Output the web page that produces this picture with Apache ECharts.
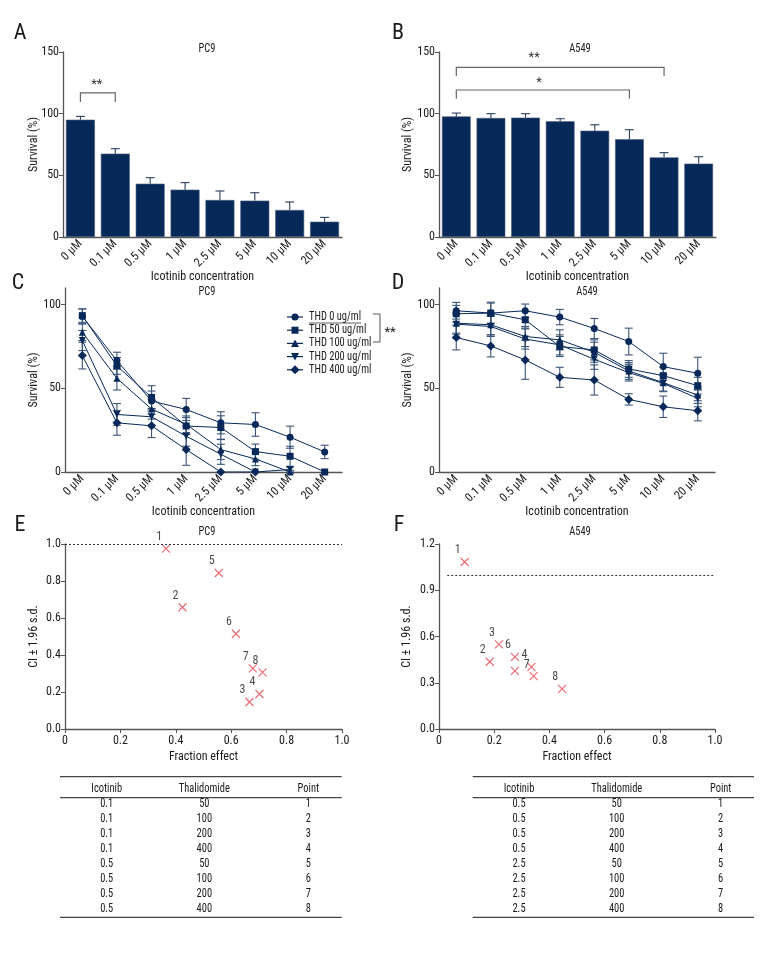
<!DOCTYPE html>
<html><head><meta charset="utf-8">
<script src="https://cdn.jsdelivr.net/npm/echarts@6/dist/echarts.min.js"></script>
<style>html,body{margin:0;padding:0;background:#fff}#c{width:780px;height:960px}</style>
</head><body><div id="c"></div>
<script>
// ---------------- DATA ----------------
const concLabels = ['0 μM','0.1 μM','0.5 μM','1 μM','2.5 μM','5 μM','10 μM','20 μM'];
const pc9BarMean = [95.1, 67.6, 43.2, 38.4, 30.0, 29.5, 21.9, 12.4];
const pc9BarErr  = [2.7, 4.0, 4.9, 5.7, 7.3, 6.4, 6.5, 3.5];
const a549BarMean = [97.8, 96.5, 96.8, 93.8, 86.2, 79.2, 64.6, 59.5];
const a549BarErr  = [2.7, 3.5, 3.2, 2.1, 4.8, 7.8, 3.8, 5.6];
// significance brackets: [fromIdx, toIdx, level, tickEnd]
const pc9Brackets = [[0, 1, 116.8, 109.5]];
const pc9BracketText = ['**'];
const pc9BracketTextPos = [[0.47, 123.5]];
const a549Brackets = [[0, 6, 137.6, 130.5], [0, 5, 119.2, 112]];
const a549BracketText = ['**', '*'];
const a549BracketTextPos = [[2.25, 145.5], [2.39, 125]];

const thdLabels = ['THD 0 ug/ml','THD 50 ug/ml','THD 100 ug/ml','THD 200 ug/ml','THD 400 ug/ml'];
const pc9Thd0   = [93.0, 66.6, 42.4, 37.4, 29.4, 28.4, 20.8, 12.0];
const pc9Thd0Err= [4.5, 5.0, 6.0, 6.6, 6.6, 7.0, 6.6, 4.0];
const pc9Thd50  = [93.5, 63.4, 44.6, 27.5, 26.6, 12.2, 9.4, 0];
const pc9Thd50Err=[4.0, 5.0, 7.0, 5.0, 7.0, 4.5, 6.0, 0];
const pc9Thd100 = [83.6, 56.0, 37.6, 28.5, 13.4, 7.8, 0, null];
const pc9Thd100Err=[5.0, 7.0, 6.0, 5.0, 6.0, 4.0, 1.0, null];
const pc9Thd200 = [78.6, 34.4, 33.0, 21.4, 10.6, 0, 1.5, null];
const pc9Thd200Err=[6.0, 6.5, 5.0, 6.0, 6.0, 0, 1.5, null];
const pc9Thd400 = [69.6, 29.4, 27.6, 13.4, 0, 0, null, null];
const pc9Thd400Err=[8.0, 7.4, 7.0, 9.4, 0, 0, null, null];

const a549Thd0   = [96.4, 95.0, 96.4, 92.6, 85.8, 78.0, 63.0, 59.0];
const a549Thd0Err= [5.0, 6.0, 4.0, 4.6, 6.0, 8.0, 8.0, 9.6];
const a549Thd50  = [94.6, 95.0, 91.0, 75.0, 73.0, 61.6, 57.6, 51.6];
const a549Thd50Err=[5.0, 6.5, 5.0, 6.0, 6.0, 5.0, 5.0, 5.0];
const a549Thd100 = [89.0, 88.0, 81.0, 79.0, 71.6, 60.4, 53.4, 46.0];
const a549Thd100Err=[6.0, 6.0, 6.0, 6.0, 6.0, 5.0, 5.0, 5.0];
const a549Thd200 = [88.4, 87.0, 79.5, 76.0, 67.4, 59.4, 53.0, 44.0];
const a549Thd200Err=[6.0, 6.0, 6.0, 6.0, 6.0, 5.0, 5.0, 5.0];
const a549Thd400 = [80.4, 75.4, 67.0, 56.6, 55.0, 43.4, 39.0, 36.6];
const a549Thd400Err=[7.4, 6.6, 11.6, 6.0, 9.0, 3.4, 6.4, 6.0];

const pc9Fa = [0.365, 0.424, 0.666, 0.702, 0.555, 0.617, 0.678, 0.713];
const pc9CI = [0.975, 0.658, 0.146, 0.189, 0.843, 0.515, 0.328, 0.306];
const pc9PointLabels = ['1','2','3','4','5','6','7','8'];
const a549Fa = [0.093, 0.184, 0.217, 0.335, 0.275, 0.275, 0.343, 0.446];
const a549CI = [1.083, 0.436, 0.549, 0.403, 0.377, 0.468, 0.343, 0.260];
const a549PointLabels = ['1','2','3','4','','6','7','8'];

const tableHeader = ['Icotinib','Thalidomide','Point'];
const pc9TableIco = ['0.1','0.1','0.1','0.1','0.5','0.5','0.5','0.5'];
const pc9TableThd = ['50','100','200','400','50','100','200','400'];
const pc9TablePoint = ['1','2','3','4','5','6','7','8'];
const a549TableIco = ['0.5','0.5','0.5','0.5','2.5','2.5','2.5','2.5'];
const a549TableThd = ['50','100','200','400','50','100','200','400'];
const a549TablePoint = ['1','2','3','4','5','6','7','8'];

// ---------------- FONT PICK ----------------
const ctx = document.createElement('canvas').getContext('2d');
function measure(s, px, fam) { ctx.font = px + 'px ' + fam; return ctx.measureText(s).width; }
function hasFont(name) {
  const s = 'Icotinib Thalidomide 0123 μM';
  return measure(s, 20, "'" + name + "',monospace") !== measure(s, 20, 'monospace') ||
         measure(s, 20, "'" + name + "',serif") !== measure(s, 20, 'serif');
}
const candidates = ['Liberation Sans Narrow', 'Roboto Condensed', 'Noto Sans Condensed', 'Open Sans Condensed', 'DejaVu Sans Condensed', 'Lato'];
let picked = 'Lato';
for (const c of candidates) { if (hasFont(c)) { picked = c; break; } }
const FONT = "'" + picked + "',Lato,sans-serif";
// horizontal squeeze for free text so it matches the condensed reference face
const COND = Math.min(1, 51 / measure('Thalidomide', 12, FONT));
const XLAB = COND < 0.85 ? 11 : 12;
const labDepth = 5 + (measure('2.5 μM', XLAB, FONT) + XLAB * 0.7) * 0.707;

const NAVY = '#06295a';
const ERRC = '#3a5478';
const AXC = '#555';
const TXT = '#1a1a1a';
const RED = '#e2474f';

const chart = echarts.init(document.getElementById('c'), null, {renderer: 'canvas'});

function catX(name, gap) {
  return {
    type: 'category', data: concLabels, boundaryGap: true,
    axisLine: {lineStyle: {color: AXC, width: 1.3}},
    axisTick: {alignWithLabel: true, length: 4, lineStyle: {color: AXC}},
    axisLabel: {rotate: 45, fontSize: XLAB, color: TXT, margin: 5, fontFamily: FONT},
    name: name, nameLocation: 'middle', nameGap: Math.max(gap, labDepth), nameMoveOverlap: false,
    nameTextStyle: {fontSize: 12, color: TXT, fontFamily: FONT}
  };
}
function valY(min, max, interval, name, gap, fmt, custom) {
  const a = {
    type: 'value', min: min, max: max, interval: interval,
    splitLine: {show: false},
    axisLine: {show: true, lineStyle: {color: AXC, width: 1.3}},
    axisTick: {show: true, length: 4, lineStyle: {color: AXC}},
    axisLabel: {fontSize: 12, color: TXT, margin: 4, fontFamily: FONT, formatter: fmt},
    name: name, nameLocation: 'middle', nameGap: gap, nameMoveOverlap: false,
    nameTextStyle: {fontSize: 12, color: TXT, fontFamily: FONT}
  };
  if (custom) { a.axisLabel.customValues = custom; a.axisTick.customValues = custom; }
  return a;
}
function fracX() {
  return {
    type: 'value', min: 0, max: 1, interval: 0.2,
    splitLine: {show: false},
    axisLine: {show: true, lineStyle: {color: AXC, width: 1.3}},
    axisTick: {show: true, length: 4, lineStyle: {color: AXC}},
    axisLabel: {fontSize: 12, color: TXT, margin: 6, fontFamily: FONT,
      formatter: v => v === 0 ? '0' : v.toFixed(1)},
    name: 'Fraction effect', nameLocation: 'middle', nameGap: 22, nameMoveOverlap: false,
    nameTextStyle: {fontSize: 12, color: TXT, fontFamily: FONT}
  };
}

function errSeries(xi, yi, means, errs, upperOnly, capHalf, color, z) {
  const data = [];
  means.forEach((m, i) => { if (m !== null && errs[i] !== null) data.push([i, m, errs[i]]); });
  return {
    type: 'custom', xAxisIndex: xi, yAxisIndex: yi, z: z, silent: true,
    data: data,
    renderItem: function (params, api) {
      const x = api.value(0), m = api.value(1), e = api.value(2);
      if (!e) return;
      const c = api.coord([x, m]);
      const t = api.coord([x, m + e]);
      const b = upperOnly ? c : api.coord([x, m - e]);
      const st = {stroke: color, lineWidth: 1.1};
      const ch = [
        {type: 'line', shape: {x1: c[0], y1: b[1], x2: c[0], y2: t[1]}, style: st},
        {type: 'line', shape: {x1: c[0] - capHalf, y1: t[1], x2: c[0] + capHalf, y2: t[1]}, style: st}
      ];
      if (!upperOnly) ch.push({type: 'line', shape: {x1: c[0] - capHalf, y1: b[1], x2: c[0] + capHalf, y2: b[1]}, style: st});
      return {type: 'group', children: ch};
    }
  };
}

function bracketSeries(xi, yi, brackets, texts, textPos) {
  return {
    type: 'custom', xAxisIndex: xi, yAxisIndex: yi, z: 5, silent: true,
    data: brackets,
    renderItem: function (params, api) {
      const i = params.dataIndex;
      const p1 = api.coord([api.value(0), api.value(2)]);
      const p2 = api.coord([api.value(1), api.value(2)]);
      const e1 = api.coord([api.value(0), api.value(3)]);
      const e2 = api.coord([api.value(1), api.value(3)]);
      const fx = textPos[i][0], base = Math.floor(fx);
      const bw = api.size([1, 0])[0];
      const tb = api.coord([base, textPos[i][1]]);
      const tx = tb[0] + (fx - base) * bw;
      return {type: 'group', children: [
        {type: 'polyline', shape: {points: [e1, p1, p2, e2]}, style: {stroke: '#666', lineWidth: 1.2, fill: null}},
        {type: 'text', x: tx, y: tb[1], style: {text: texts[i], fill: '#333', font: '13px ' + FONT, align: 'center', verticalAlign: 'middle'}}
      ]};
    }
  };
}

const symbols = ['circle', 'rect', 'triangle', 'path://M0,0L10,0L5,10Z', 'diamond'];
function lineSeries(xi, yi, name, data, k) {
  return {
    type: 'line', name: name, xAxisIndex: xi, yAxisIndex: yi, data: data,
    symbol: symbols[k], symbolSize: k === 4 ? 9 : 7, connectNulls: false,
    lineStyle: {color: NAVY, width: 1}, itemStyle: {color: NAVY}, z: 4,
    emphasis: {disabled: true}
  };
}

const CROSS = 'path://M0,0L10,10M10,0L0,10';
function scatterSeries(xi, yi, fa, ci, labels, lineFrom, lineTo) {
  return {
    type: 'scatter', xAxisIndex: xi, yAxisIndex: yi,
    data: fa.map((v, i) => [v, ci[i]]),
    symbol: CROSS, symbolSize: 8,
    itemStyle: {color: 'rgba(0,0,0,0)', borderColor: RED, borderWidth: 1.2},
    label: {show: true, position: 'top', distance: 1, offset: [-7, 0], color: TXT, fontSize: 12, fontFamily: FONT,
      formatter: p => labels[p.dataIndex]},
    markLine: {silent: true, symbol: ['none', 'none'], label: {show: false},
      lineStyle: {type: [2, 2], color: '#333', width: 1},
      data: [[{coord: [lineFrom, 1]}, {coord: [lineTo, 1]}]]},
    z: 4
  };
}

// ---------------- GRAPHICS (titles, letters, legend, tables) ----------------
const graphic = [];
function txt(x, y, s, size, align, squeeze) {
  graphic.push({type: 'text', x: x, y: y, silent: true, scaleX: squeeze === false ? 1 : COND,
    style: {text: s, fill: TXT, font: size + 'px ' + FONT, align: align || 'center', verticalAlign: 'middle'}});
}
function hline(x1, x2, y, w) {
  graphic.push({type: 'line', silent: true, shape: {x1: x1, y1: y, x2: x2, y2: y}, style: {stroke: '#444', lineWidth: w || 1.3}});
}
// panel letters
[['A', 20, 33], ['B', 398, 33], ['C', 18, 283], ['D', 398, 283], ['E', 20, 525], ['F', 399, 525]]
  .forEach(l => txt(l[1], l[2], l[0], 22, 'center', false));
// panel titles
[['PC9', 207, 49], ['A549', 580, 49], ['PC9', 207, 292], ['A549', 587, 292], ['PC9', 207, 532], ['A549', 580, 532]]
  .forEach(t => txt(t[1], t[2], t[0], 12));
// legend for panel C (keys drawn like the line series)
const legendY0 = 317, legendStep = 13.2, keyX0 = 287, keyX1 = 303, keyC = 295, legTextX = 309;
thdLabels.forEach((name, k) => {
  const y = legendY0 + k * legendStep;
  graphic.push({type: 'line', silent: true, shape: {x1: keyX0, y1: y, x2: keyX1, y2: y}, style: {stroke: NAVY, lineWidth: 1.2}});
  let sym;
  if (k === 0) sym = {type: 'circle', shape: {cx: keyC, cy: y, r: 3.6}};
  else if (k === 1) sym = {type: 'rect', shape: {x: keyC - 3.5, y: y - 3.5, width: 7, height: 7}};
  else if (k === 2) sym = {type: 'polygon', shape: {points: [[keyC, y - 4], [keyC + 4, y + 3.5], [keyC - 4, y + 3.5]]}};
  else if (k === 3) sym = {type: 'polygon', shape: {points: [[keyC, y + 4], [keyC + 4, y - 3.5], [keyC - 4, y - 3.5]]}};
  else sym = {type: 'polygon', shape: {points: [[keyC, y - 4.5], [keyC + 4.5, y], [keyC, y + 4.5], [keyC - 4.5, y]]}};
  sym.silent = true; sym.style = {fill: NAVY};
  graphic.push(sym);
  txt(legTextX, y, name, 12, 'left');
});
graphic.push({type: 'line', silent: true, shape: {x1: 309, y1: 323, x2: 309 + measure(thdLabels[0], 12, FONT) * COND, y2: 323}, style: {stroke: '#333', lineWidth: 0.8}});
graphic.push({type: 'polyline', silent: true, shape: {points: [[373, 314], [380, 314], [380, 342], [373, 342]]}, style: {stroke: '#555', lineWidth: 1, fill: null}});
txt(390, 333, '**', 13, 'center', false);
// tables
function table(x0, x1, cols, colData) {
  const top = 776.7, headY = 789.3, headLine = 797.7, row0 = 804.3, step = 15, bottom = 917.3;
  hline(x0, x1, top); hline(x0, x1, headLine); hline(x0, x1, bottom);
  tableHeader.forEach((h, j) => txt(cols[j], headY, h, 12));
  colData.forEach((arr, j) => arr.forEach((v, i) => txt(cols[j], row0 + i * step, v, 12)));
}
table(60, 341.7, [106.7, 204.3, 308.3], [pc9TableIco, pc9TableThd, pc9TablePoint]);
table(472.7, 754, [519, 616.7, 720.7], [a549TableIco, a549TableThd, a549TablePoint]);

// ---------------- OPTION ----------------
const option = {
  animation: false,
  backgroundColor: '#fff',
  textStyle: {fontFamily: FONT},
  grid: [
    {left: 63, right: 438, top: 52, bottom: 723},
    {left: 439, right: 64, top: 52, bottom: 723},
    {left: 65, right: 438, top: 288, bottom: 488},
    {left: 439, right: 65, top: 288, bottom: 488},
    {left: 65, right: 438, top: 544, bottom: 231},
    {left: 439, right: 65, top: 544, bottom: 231}
  ],
  xAxis: [
    Object.assign(catX('Icotinib concentration', 25), {gridIndex: 0}),
    Object.assign(catX('Icotinib concentration', 25), {gridIndex: 1}),
    Object.assign(catX('Icotinib concentration', 30), {gridIndex: 2}),
    Object.assign(catX('Icotinib concentration', 30), {gridIndex: 3}),
    Object.assign(fracX(), {gridIndex: 4}),
    Object.assign(fracX(), {gridIndex: 5})
  ],
  yAxis: [
    Object.assign(valY(0, 150, 50, 'Survival (%)', 23), {gridIndex: 0}),
    Object.assign(valY(0, 150, 50, 'Survival (%)', 25), {gridIndex: 1}),
    Object.assign(valY(0, 110, 50, 'Survival (%)', 25, null, [0, 50, 100]), {gridIndex: 2}),
    Object.assign(valY(0, 110, 50, 'Survival (%)', 25.5, null, [0, 50, 100]), {gridIndex: 3}),
    Object.assign(valY(0, 1, 0.2, 'CI ± 1.96 s.d.', 25, v => v.toFixed(1)), {gridIndex: 4}),
    Object.assign(valY(0, 1.2, 0.3, 'CI ± 1.96 s.d.', 26, v => v.toFixed(1)), {gridIndex: 5})
  ],
  graphic: graphic,
  series: [
    {type: 'bar', xAxisIndex: 0, yAxisIndex: 0, data: pc9BarMean, barWidth: '83%',
      itemStyle: {color: NAVY, borderColor: '#4f5f78', borderWidth: 0.6}, z: 2},
    errSeries(0, 0, pc9BarMean, pc9BarErr, true, 4.5, '#2a3f5e', 3),
    bracketSeries(0, 0, pc9Brackets, pc9BracketText, pc9BracketTextPos),
    {type: 'bar', xAxisIndex: 1, yAxisIndex: 1, data: a549BarMean, barWidth: '83%',
      itemStyle: {color: NAVY, borderColor: '#4f5f78', borderWidth: 0.6}, z: 2},
    errSeries(1, 1, a549BarMean, a549BarErr, true, 4.5, '#2a3f5e', 3),
    bracketSeries(1, 1, a549Brackets, a549BracketText, a549BracketTextPos),

    errSeries(2, 2, pc9Thd0, pc9Thd0Err, false, 4, ERRC, 3),
    errSeries(2, 2, pc9Thd50, pc9Thd50Err, false, 4, ERRC, 3),
    errSeries(2, 2, pc9Thd100, pc9Thd100Err, false, 4, ERRC, 3),
    errSeries(2, 2, pc9Thd200, pc9Thd200Err, false, 4, ERRC, 3),
    errSeries(2, 2, pc9Thd400, pc9Thd400Err, false, 4, ERRC, 3),
    lineSeries(2, 2, thdLabels[0], pc9Thd0, 0),
    lineSeries(2, 2, thdLabels[1], pc9Thd50, 1),
    lineSeries(2, 2, thdLabels[2], pc9Thd100, 2),
    lineSeries(2, 2, thdLabels[3], pc9Thd200, 3),
    lineSeries(2, 2, thdLabels[4], pc9Thd400, 4),

    errSeries(3, 3, a549Thd0, a549Thd0Err, false, 4, ERRC, 3),
    errSeries(3, 3, a549Thd50, a549Thd50Err, false, 4, ERRC, 3),
    errSeries(3, 3, a549Thd100, a549Thd100Err, false, 4, ERRC, 3),
    errSeries(3, 3, a549Thd200, a549Thd200Err, false, 4, ERRC, 3),
    errSeries(3, 3, a549Thd400, a549Thd400Err, false, 4, ERRC, 3),
    lineSeries(3, 3, thdLabels[0], a549Thd0, 0),
    lineSeries(3, 3, thdLabels[1], a549Thd50, 1),
    lineSeries(3, 3, thdLabels[2], a549Thd100, 2),
    lineSeries(3, 3, thdLabels[3], a549Thd200, 3),
    lineSeries(3, 3, thdLabels[4], a549Thd400, 4),

    scatterSeries(4, 4, pc9Fa, pc9CI, pc9PointLabels, 0, 1.0),
    scatterSeries(5, 5, a549Fa, a549CI, a549PointLabels, 0.03, 1.0)
  ]
};
chart.setOption(option);
</script></body></html>
